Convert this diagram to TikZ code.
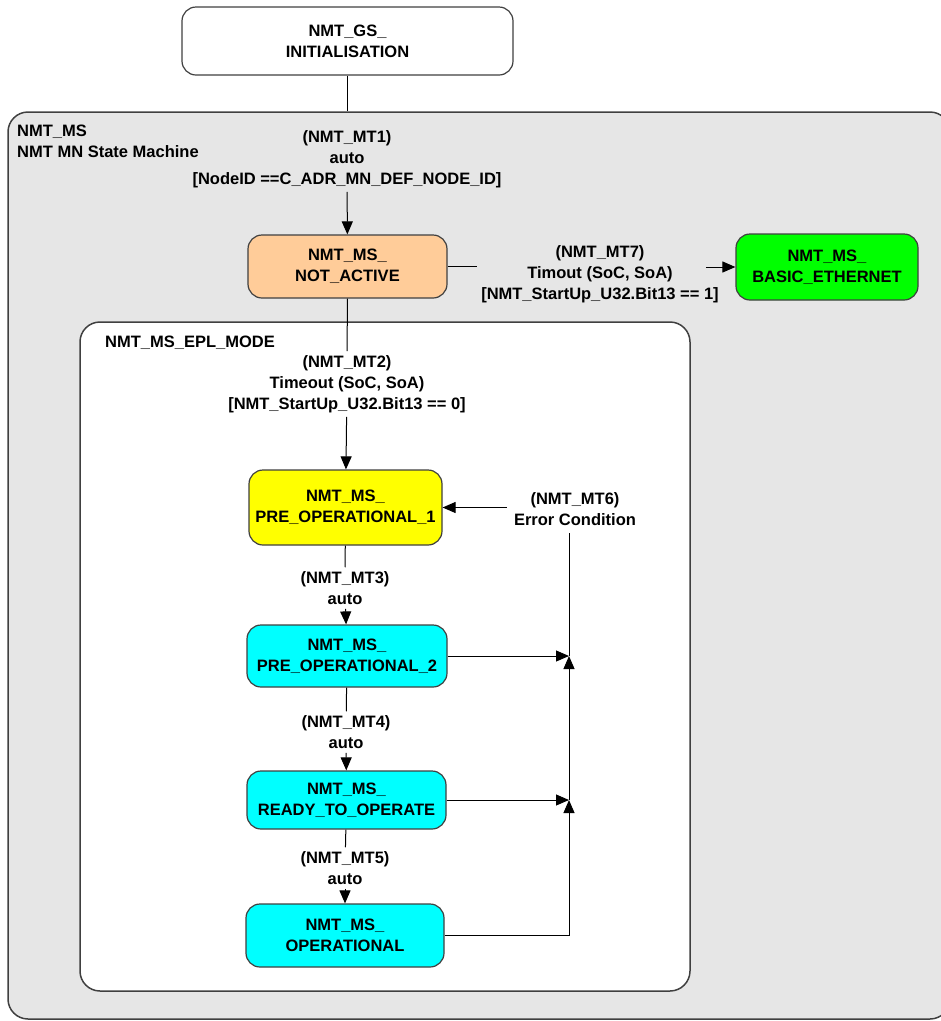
\documentclass[tikz,border=0pt]{standalone}
\usepackage{fontspec}
\setmainfont{Liberation Sans}
\usetikzlibrary{arrows.meta,positioning}

\definecolor{framegray}{HTML}{E6E6E6}
\definecolor{edgegray}{HTML}{404040}
\definecolor{peach}{HTML}{FFCC99}
\definecolor{ethgreen}{HTML}{00FF00}
\definecolor{opcyan}{HTML}{00FFFF}
\definecolor{preyellow}{HTML}{FFFF00}

\tikzset{
  state/.style={draw=edgegray, line width=1.2pt, rounded corners=14pt, align=center, inner sep=0pt},
  region/.style={draw=edgegray, line width=1.5pt, rounded corners=20pt, inner sep=0pt},
  trans/.style={align=center, inner sep=4pt},
  flow/.style={-{Triangle[length=13pt,width=11pt]}, line width=1pt},
}

\begin{document}
\begin{tikzpicture}[x=1pt, y=-1pt, font=\fontsize{16.5}{21}\selectfont\bfseries]
\useasboundingbox (0,0) rectangle (941,1021);
\clip (0,0) rectangle (941,1021);

% regions
\node[region, fill=framegray, minimum width=942pt, minimum height=907pt] (ms) at (479,565.5) {};
\node[anchor=north west, align=left, inner sep=0pt] (mslabel) at (17,125) {NMT\_MS\\NMT MN State Machine};
\node[state, fill=white, minimum width=331pt, minimum height=68pt] (init) at (347.5,41) {NMT\_GS\_\\INITIALISATION};

% upper states
\node[trans] (mt1) at (347,159) {(NMT\_MT1)\\auto\\{[}NodeID ==C\_ADR\_MN\_DEF\_NODE\_ID{]}};
\node[state, fill=peach, minimum width=199pt, minimum height=63pt] (na) at (347.5,266.5) {NMT\_MS\_\\NOT\_ACTIVE};
\node[trans] (mt7) at (600,274) {(NMT\_MT7)\\Timout (SoC, SoA)\\{[}NMT\_StartUp\_U32.Bit13 == 1{]}};
\node[state, fill=ethgreen, minimum width=182pt, minimum height=66pt] (be) at (827,267) {NMT\_MS\_\\BASIC\_ETHERNET};

% EPL mode
\node[region, fill=white, minimum width=610pt, minimum height=669pt] (epl) at (385,656.5) {};
\node[anchor=north west, inner sep=0pt] (epllabel) at (105,336) {NMT\_MS\_EPL\_MODE};
\node[trans] (mt2) at (347,384) {(NMT\_MT2)\\Timeout (SoC, SoA)\\{[}NMT\_StartUp\_U32.Bit13 == 0{]}};
\node[state, fill=preyellow, minimum width=193pt, minimum height=75pt] (po1) at (345.5,507.5) {NMT\_MS\_\\PRE\_OPERATIONAL\_1};
\node[trans, inner sep=7pt] (mt6) at (575,509) {(NMT\_MT6)\\Error Condition};
\node[trans] (mt3) at (345,588) {(NMT\_MT3)\\auto};
\node[state, fill=opcyan, minimum width=200pt, minimum height=62pt] (po2) at (347,656) {NMT\_MS\_\\PRE\_OPERATIONAL\_2};
\node[trans] (mt4) at (346,732) {(NMT\_MT4)\\auto};
\node[state, fill=opcyan, minimum width=199pt, minimum height=58pt] (rto) at (346.5,800) {NMT\_MS\_\\READY\_TO\_OPERATE};
\node[trans] (mt5) at (345,868) {(NMT\_MT5)\\auto};
\node[state, fill=opcyan, minimum width=198pt, minimum height=63pt] (op) at (345,935.5) {NMT\_MS\_\\OPERATIONAL};
\coordinate (j2) at (569,656);
\coordinate (j3) at (569,800);

% transitions
\draw[line width=1pt] (init) -- (init |- ms.north);
\draw[flow] (mt1) -- (na);
\draw[line width=1pt] (na.east) -- (na.east -| mt7.west);
\draw[flow] ([xshift=-17pt]mt7.east |- be.west) -- (be.west);
\draw[line width=1pt] (na) -- (mt2);
\draw[flow] (mt2) -- (po1);
\draw[line width=1pt] (po1) -- (mt3);
\draw[flow] (mt3) -- (po2);
\draw[line width=1pt] (po2) -- (mt4);
\draw[flow] (mt4) -- (rto);
\draw[line width=1pt] (rto) -- (mt5);
\draw[flow] (mt5) -- (op);
\draw[flow] (mt6.west |- po1.east) -- (po1.east);
\draw[line width=1pt] (j2) -- (j2 |- mt6.south);
\draw[flow] (po2.east) -- (j2);
\draw[flow] (rto.east) -- (j3);
\draw[flow] (j3) -- (j2);
\draw[flow] (op.east) -| (j3);
\end{tikzpicture}
\end{document}
